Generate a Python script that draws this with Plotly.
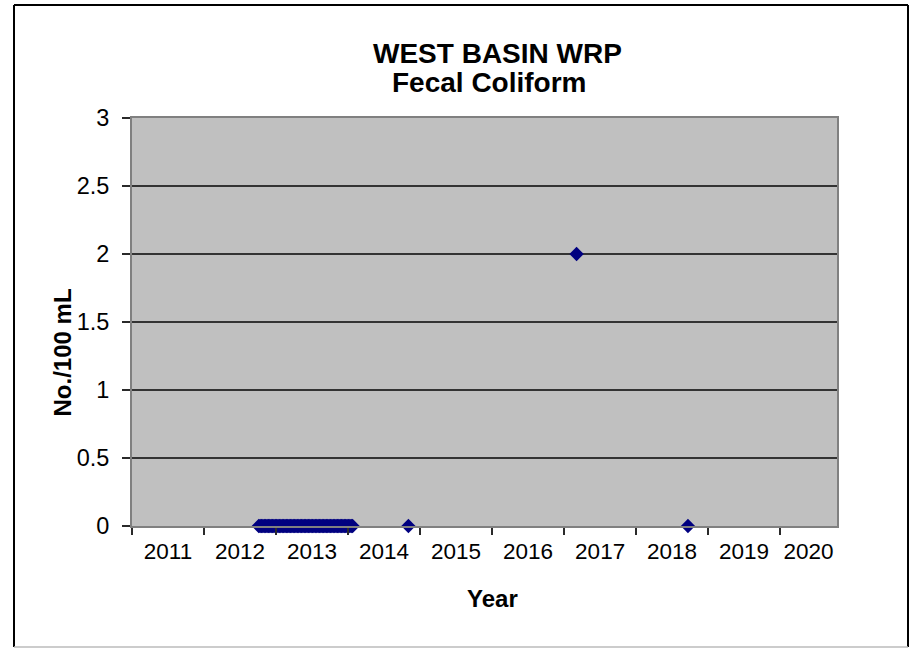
import pandas as pd
import plotly.graph_objects as go

# ---- data ----
cluster_dates = [
    "2012-10-05", "2012-10-12", "2012-10-19", "2012-10-26", "2012-11-02",
    "2012-11-09", "2012-11-16", "2012-11-23", "2012-11-30", "2012-12-07",
    "2012-12-14", "2012-12-21", "2012-12-28", "2013-01-04", "2013-01-11",
    "2013-01-18", "2013-01-25", "2013-02-01", "2013-02-08", "2013-02-15",
    "2013-02-22", "2013-03-01", "2013-03-08", "2013-03-15", "2013-03-22",
    "2013-03-29", "2013-04-05", "2013-04-12", "2013-04-19", "2013-04-26",
    "2013-05-03", "2013-05-10", "2013-05-17", "2013-05-24", "2013-05-31",
    "2013-06-07", "2013-06-14", "2013-06-21", "2013-06-28", "2013-07-05",
    "2013-07-12", "2013-07-19", "2013-07-26", "2013-08-02", "2013-08-09",
    "2013-08-16", "2013-08-23", "2013-08-30", "2013-09-06", "2013-09-13",
    "2013-09-20", "2013-09-27", "2013-10-04", "2013-10-11", "2013-10-18",
    "2013-10-25", "2013-11-01", "2013-11-08", "2013-11-15", "2013-11-22",
    "2013-11-29", "2013-12-06", "2013-12-13", "2013-12-20", "2013-12-27",
    "2014-01-03", "2014-01-10", "2014-01-17", "2014-01-24",
]
cluster_values = [0] * len(cluster_dates)
other_dates = ["2014-11-03", "2017-03-05", "2018-09-21"]
other_values = [0, 2, 0]

sample_dates = cluster_dates + other_dates
fecal_values = cluster_values + other_values

year_labels = ["2011", "2012", "2013", "2014", "2015", "2016", "2017", "2018", "2019", "2020"]
y_ticks = [0, 0.5, 1, 1.5, 2, 2.5, 3]

x_start = pd.Timestamp("2011-01-01")
x_end = pd.Timestamp("2020-10-16")

# label positions: middle of each year interval (clipped to axis end)
label_pos = []
for y in year_labels:
    a = pd.Timestamp(f"{y}-01-01")
    b = min(pd.Timestamp(f"{int(y) + 1}-01-01"), x_end)
    label_pos.append(a + (b - a) / 2)

FONT = "Liberation Sans, Arial, sans-serif"

fig = go.Figure()
fig.add_trace(go.Scatter(
    x=pd.to_datetime(sample_dates), y=fecal_values, mode="markers",
    marker=dict(symbol="diamond", size=11, color="#000080",
                line=dict(width=0)),
    cliponaxis=False, showlegend=False,
))

W, H = 915, 648
L, R, T, B = 132, 78, 118, 122
pw, ph = W - L - R, H - T - B

def px(x):
    return (x - L) / pw

def py(y):
    return (H - B - y) / ph

fig.update_layout(
    width=W, height=H,
    margin=dict(l=L, r=R, t=T, b=B, autoexpand=False),
    paper_bgcolor="white", plot_bgcolor="#C0C0C0",
    font=dict(family=FONT, color="black"),
    xaxis=dict(
        type="date", range=[x_start, x_end],
        tickmode="array", tickvals=label_pos, ticktext=year_labels,
        ticks="", showgrid=False, zeroline=False,
        tickfont=dict(size=22.5, family=FONT),
        showline=True, linecolor="#808080", linewidth=2, mirror=True,
        minor=dict(ticks="outside", ticklen=7, tickwidth=1.5, tickcolor="#2a2a2a",
                   tick0="2011-01-01", dtick="M12", showgrid=False),
        ticklabelstandoff=4,
    ),
    yaxis=dict(
        range=[0, 3], tickmode="array", tickvals=y_ticks,
        ticktext=[f"{v:g}" for v in y_ticks],
        ticks="outside", ticklen=8, tickwidth=1.5, tickcolor="#2a2a2a",
        showgrid=True, gridcolor="#333333", gridwidth=1.6, zeroline=False,
        tickfont=dict(size=23.5, family=FONT),
        showline=True, linecolor="#808080", linewidth=2, mirror=True,
        ticklabelstandoff=8,
    ),
    annotations=[
        dict(text="<b>WEST BASIN WRP</b>", x=px(497.5), y=py(54), xref="paper", yref="paper",
             xanchor="center", yanchor="middle", showarrow=False,
             font=dict(size=28, family=FONT)),
        dict(text="<b>Fecal Coliform</b>", x=px(489), y=py(82.5), xref="paper", yref="paper",
             xanchor="center", yanchor="middle", showarrow=False,
             font=dict(size=28, family=FONT)),
        dict(text="<b>Year</b>", x=px(492.5), y=py(598.7), xref="paper", yref="paper",
             xanchor="center", yanchor="middle", showarrow=False,
             font=dict(size=24, family=FONT)),
        dict(text="<b>No./100 mL</b>", x=px(62), y=py(352.5), xref="paper", yref="paper",
             xanchor="center", yanchor="middle", showarrow=False, textangle=-90,
             font=dict(size=24, family=FONT)),
    ],
    shapes=[
        dict(type="line", xref="paper", yref="paper", x0=px(14), x1=px(14), y0=py(5), y1=py(647),
             line=dict(color="black", width=2)),
        dict(type="line", xref="paper", yref="paper", x0=px(14), x1=px(908), y0=py(5), y1=py(5),
             line=dict(color="black", width=2)),
        dict(type="line", xref="paper", yref="paper", x0=px(908), x1=px(908), y0=py(5), y1=py(647),
             line=dict(color="black", width=2)),
        dict(type="line", xref="paper", yref="paper", x0=px(14), x1=px(908), y0=py(647), y1=py(647),
             line=dict(color="#BBBBBB", width=1.5)),
    ],
)

fig.write_html(
    "out.html",
    config={"displayModeBar": False},
    post_script="document.body.style.margin='0px';document.body.style.overflow='hidden';",
)
